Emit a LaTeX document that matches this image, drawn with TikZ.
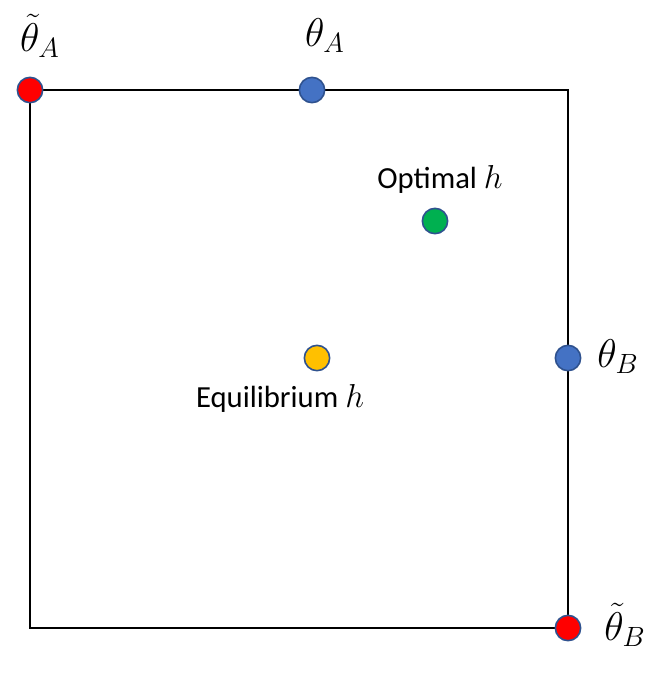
\documentclass[tikz,border=0pt]{standalone}
\usepackage{fontspec}
\setmainfont{Carlito}
\usepackage{xcolor}
\usetikzlibrary{positioning}

\definecolor{dotred}{HTML}{FF0000}
\definecolor{dotblue}{HTML}{4472C4}
\definecolor{dotgreen}{HTML}{00B050}
\definecolor{dotyellow}{HTML}{FFC000}
\definecolor{rimblue}{HTML}{2F528F}

\tikzset{
  dot/.style={circle, draw=rimblue, line width=1.2pt, minimum size=19pt, inner sep=0pt},
  mathlabel/.style={font=\fontsize{20}{24}\selectfont, scale=1.45, transform shape},
  textlabel/.style={font=\fontsize{23}{26}\selectfont}
}

\begin{document}
\begin{tikzpicture}[x=0.75pt, y=-0.75pt]

% Frame
\useasboundingbox (0,0) rectangle (671,683);

% Square
\coordinate (topright) at (568,90);
\coordinate (botleft) at (30,628);
\draw[line width=1.2pt] (30,90) -- (topright) -- (568,628) -- (botleft) -- cycle;

% Points on the square
\node[dot, fill=dotred] (tildeA) at (30,90) {};
\node[dot, fill=dotblue] (thetaA) at (312,90) {};
\node[dot, fill=dotblue] (thetaB) at (568,358) {};
\node[dot, fill=dotred] (tildeB) at (568,628) {};

% Inner points
\node[dot, fill=dotgreen] (optimal) at (435,221) {};
\node[dot, fill=dotyellow] (equil) at (317,358) {};

% Labels
\node[mathlabel] at (40,36) {$\tilde{\theta}_A$};
\node[mathlabel] at (325,36) {$\theta_A$};
\node[mathlabel] at (618,357) {$\theta_B$};
\node[mathlabel] at (625,625) {$\tilde{\theta}_B$};
\node[textlabel] at (440,179) {Optimal $h$};
\node[textlabel] at (280,398) {Equilibrium $h$};

\end{tikzpicture}
\end{document}
